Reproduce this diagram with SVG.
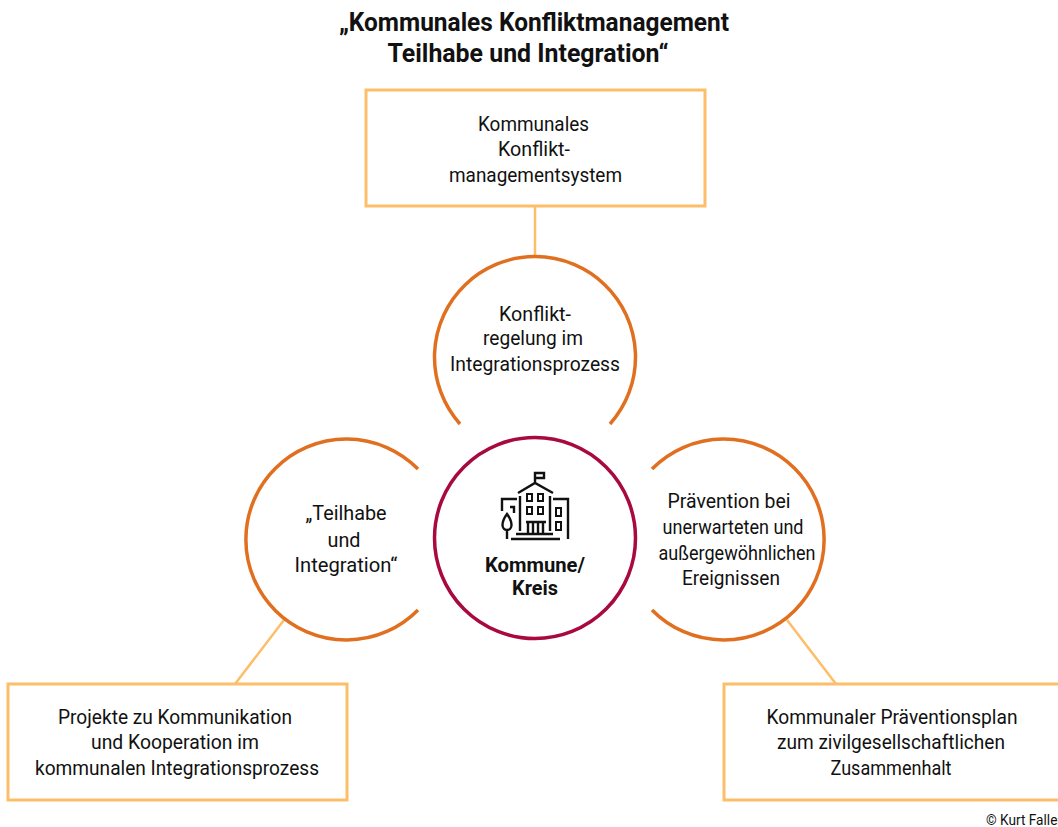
<svg xmlns="http://www.w3.org/2000/svg" width="1058" height="827" viewBox="0 0 1058 827">
<style>
text{font-family:"Roboto","Liberation Sans",sans-serif;font-size:20.5px;fill:#111;text-anchor:middle}
.b{font-weight:700}
.t{font-size:25px;font-weight:700}
.box{fill:#fff;stroke:#fdbe69;stroke-width:3}
.arc{fill:none;stroke:#e0701f;stroke-width:3.5;stroke-linecap:butt}
.con{stroke:#fdbe69;stroke-width:2.5;fill:none}
.ic{fill:none;stroke:#111;stroke-width:2.4}
</style>
<rect width="1058" height="827" fill="#fff"/>
<g id="title"><text class="t" x="534" y="31" textLength="390" lengthAdjust="spacingAndGlyphs">„Kommunales Konfliktmanagement</text><text class="t" x="528" y="62" textLength="281" lengthAdjust="spacingAndGlyphs">Teilhabe und Integration“</text></g>
<g id="connectors">
<path class="con" d="M535 206V257M284 620L235 684M787 620L836 684"/>
</g>
<g id="box-top"><rect class="box" x="366" y="90" width="339" height="116"/>
<text x="533.5" y="131" textLength="111" lengthAdjust="spacingAndGlyphs">Kommunales</text><text x="534" y="156" textLength="72" lengthAdjust="spacingAndGlyphs">Konflikt-</text><text x="535.500" y="182" textLength="173" lengthAdjust="spacingAndGlyphs">managementsystem</text></g>
<g id="box-left"><rect class="box" x="8" y="684" width="339" height="116"/>
<text x="175" y="724" textLength="234" lengthAdjust="spacingAndGlyphs">Projekte zu Kommunikation</text><text x="175" y="749" textLength="168" lengthAdjust="spacingAndGlyphs">und Kooperation im</text><text x="177" y="775" textLength="284" lengthAdjust="spacingAndGlyphs">kommunalen Integrationsprozess</text></g>
<g id="box-right"><rect class="box" x="724" y="684" width="340" height="116"/>
<text x="892" y="724" textLength="251" lengthAdjust="spacingAndGlyphs">Kommunaler Präventionsplan</text><text x="891" y="749" textLength="228" lengthAdjust="spacingAndGlyphs">zum zivilgesellschaftlichen</text><text x="891" y="775" textLength="121" lengthAdjust="spacingAndGlyphs">Zusammenhalt</text></g>
<g id="circle-top"><path class="arc" d="M460 424A100.500 100.500 0 1 1 610 424"/>
<text x="535" y="321" textLength="72" lengthAdjust="spacingAndGlyphs">Konflikt-</text><text x="533" y="345" textLength="100" lengthAdjust="spacingAndGlyphs">regelung im</text><text x="535" y="371" textLength="170" lengthAdjust="spacingAndGlyphs">Integrationsprozess</text></g>
<g id="circle-left"><path class="arc" d="M418 469A100.500 100.500 0 1 0 418 610"/>
<text x="346" y="520" textLength="81" lengthAdjust="spacingAndGlyphs">„Teilhabe</text><text x="344" y="547" textLength="33" lengthAdjust="spacingAndGlyphs">und</text><text x="346" y="572" textLength="103" lengthAdjust="spacingAndGlyphs">Integration“</text></g>
<g id="circle-right"><path class="arc" d="M652 469A100.500 100.500 0 1 1 652 610"/>
<text x="729" y="508" textLength="123" lengthAdjust="spacingAndGlyphs">Prävention bei</text><text x="733" y="534" textLength="141" lengthAdjust="spacingAndGlyphs">unerwarteten und</text><text x="737" y="560" textLength="157" lengthAdjust="spacingAndGlyphs">außergewöhnlichen</text><text x="731" y="585" textLength="98" lengthAdjust="spacingAndGlyphs">Ereignissen</text></g>
<g id="center"><circle cx="535" cy="538" r="100.500" fill="#fff" stroke="#a80a3f" stroke-width="3.500"/>
<g class="ic">
<path d="M535 484V473H544V478H536M518 493L535 483L553 493M520 496V531M550 496V531M502 511V499H517M553 499H568V539M510 507H514V513"/>
<path d="M527 494h5v7h-5zM538 494h5v7h-5zM527 507h5v7h-5zM538 507h5v7h-5zM556 508h5v8h-5zM556 522h5v8h-5z" stroke-width="2"/>
<path d="M526 522H546M528 522V534M533 522V534M538 522V534M543 522V534M516 534H553M511 539H560"/>
<path d="M507 514c-3 4-4.500 8-4.500 11 0 3 2 5 4.500 5s4.500-2 4.500-5c0-3-1.500-7-4.500-11zM507 530V539"/>
</g>
<text class="b" x="535" y="572" textLength="100" lengthAdjust="spacingAndGlyphs">Kommune/</text><text class="b" x="535" y="595" textLength="46" lengthAdjust="spacingAndGlyphs">Kreis</text></g>
<text id="credit" x="986" y="825" style="text-anchor:start;font-size:15px" textLength="76" lengthAdjust="spacingAndGlyphs">© Kurt Faller</text>
</svg>
